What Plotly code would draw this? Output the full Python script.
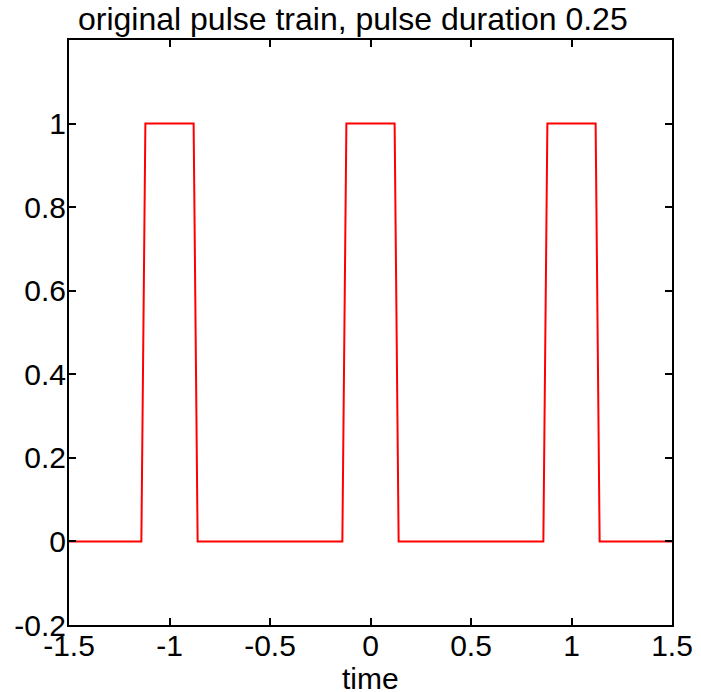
import plotly.graph_objects as go

t = [-1.5, -1.14, -1.12, -0.88, -0.86, -0.14, -0.12, 0.12, 0.14, 0.86, 0.88, 1.12, 1.14, 1.5]
pulse = [0, 0, 1, 1, 0, 0, 1, 1, 0, 0, 1, 1, 0, 0]

x_ticks = [-1.5, -1, -0.5, 0, 0.5, 1, 1.5]
x_labels = ["-1.5", "-1", "-0.5", "0", "0.5", "1", "1.5"]
y_ticks = [-0.2, 0, 0.2, 0.4, 0.6, 0.8, 1]
y_labels = ["-0.2", "0", "0.2", "0.4", "0.6", "0.8", "1"]

fig = go.Figure()
fig.add_trace(go.Scatter(x=t, y=pulse, mode="lines",
                         line=dict(color="#ff0000", width=2), showlegend=False))

fam = "Liberation Sans, Arial, sans-serif"
font = dict(family=fam, size=30, color="black")
axis_common = dict(showgrid=False, zeroline=False, showline=True, linecolor="black",
                   linewidth=2, mirror="ticks", ticks="inside", ticklen=7,
                   tickwidth=1.5, tickcolor="black", tickfont=font, automargin=False)

fig.update_layout(
    width=701, height=692,
    margin=dict(l=69, r=29, t=40, b=67),
    paper_bgcolor="white", plot_bgcolor="white",
    xaxis=dict(range=[-1.5, 1.5], tickvals=x_ticks, ticktext=x_labels,
               ticklabelstandoff=-7, **axis_common),
    yaxis=dict(range=[-0.2, 1.2], tickvals=y_ticks, ticktext=y_labels,
               ticklabelstandoff=-5, **axis_common),
    annotations=[
        dict(text="original pulse train, pulse duration 0.25", x=0.471,
             y=1, xref="paper", yref="paper", xanchor="center", yanchor="middle",
             yshift=21, showarrow=False, font=dict(family=fam, size=32, color="black")),
        dict(text="time", x=0.5, y=0, xref="paper", yref="paper",
             xanchor="center", yanchor="middle", yshift=-53, showarrow=False,
             font=dict(family=fam, size=30, color="black")),
    ],
)

fig.write_html("out.html", config={"displayModeBar": False},
               post_script="document.body.style.margin='0';")
